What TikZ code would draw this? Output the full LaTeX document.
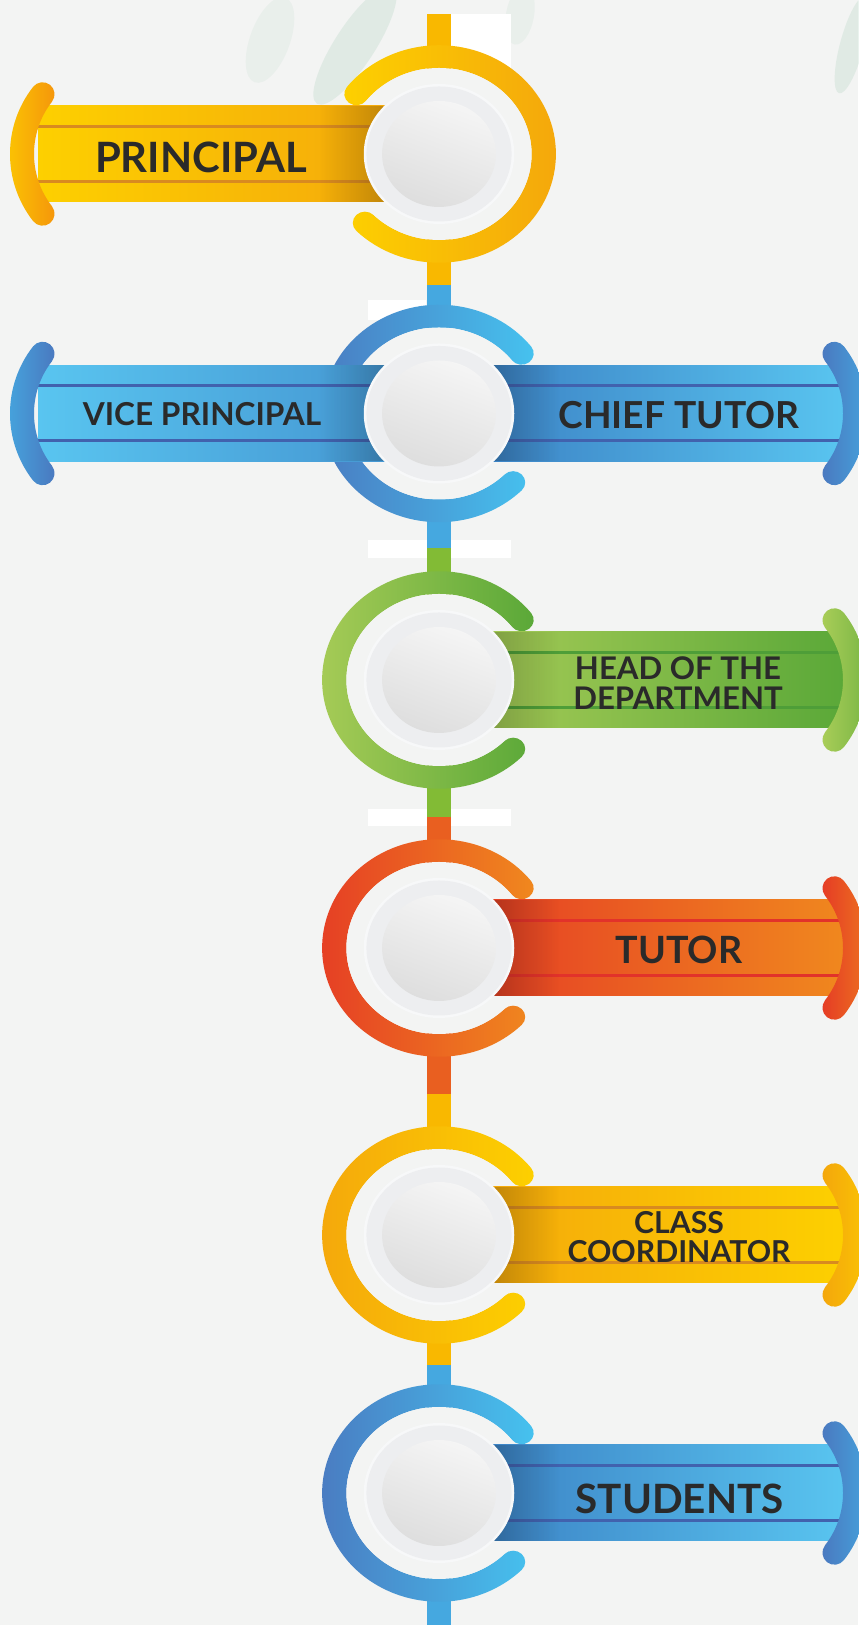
\documentclass[tikz,border=0pt]{standalone}
\usepackage{fontspec}
\setmainfont{Lato}
\usetikzlibrary{positioning,calc,fadings}

\definecolor{paper}{RGB}{243,244,243}
\definecolor{leaf}{RGB}{150,196,172}
\definecolor{ink}{RGB}{42,42,42}
\definecolor{halo}{RGB}{247,248,249}
\definecolor{diskgray}{RGB}{237,238,240}
\definecolor{yelA}{RGB}{253,208,0}
\definecolor{yelB}{RGB}{244,166,12}
\definecolor{yelStem}{RGB}{249,184,0}
\definecolor{yelLine}{RGB}{216,138,32}
\definecolor{bluA}{RGB}{74,120,191}
\definecolor{bluB}{RGB}{70,194,239}
\definecolor{bluC}{RGB}{58,126,194}
\definecolor{bluD}{RGB}{89,197,240}
\definecolor{bluStem}{RGB}{69,168,224}
\definecolor{bluLine}{RGB}{65,98,174}
\definecolor{grnA}{RGB}{170,205,88}
\definecolor{grnB}{RGB}{90,168,56}
\definecolor{grnStem}{RGB}{130,187,53}
\definecolor{grnLine}{RGB}{78,158,56}
\definecolor{redA}{RGB}{229,59,37}
\definecolor{redB}{RGB}{240,136,30}
\definecolor{redStem}{RGB}{233,95,32}
\definecolor{redLine}{RGB}{226,50,42}

% a thick arc with round ends, shaded left to right
% #1 centre, #2 radius, #3 half width, #4 start, #5 end, #6/#7 colours
\newcommand{\arcband}[7]{%
  \pgfmathsetmacro\bandout{#2+#3}%
  \pgfmathsetmacro\bandin{#2-#3}%
  \shade[left color=#6,right color=#7]
    ($#1+(#4:\bandout)$) arc[start angle=#4,end angle=#5,radius=\bandout]
    arc[start angle=#5,end angle=#5+180,radius=#3]
    arc[start angle=#5,end angle=#4,radius=\bandin]
    arc[start angle=#4+180,end angle=#4+360,radius=#3] -- cycle;}

% the open ring round a centre (a little wider than high)
% #1 centre, #2/#3 end angles, #4/#5 colours
\newcommand{\ring}[5]{%
  \begin{scope}[shift={(#1)},xscale=1.075]
    \arcband{(0,0)}{97.5}{11.25}{#2}{#3}{#4}{#5}
    \fill[paper] (0,0) circle[radius=86];
  \end{scope}}

% the grey button in the middle of a ring
\newcommand{\hub}[1]{%
  \begin{scope}[shift={(#1)},xscale=1.075]
    \fill[halo] (0,0) circle[radius=70];
    \fill[diskgray] (0,0) circle[radius=67.5];
    \shade[top color=black!4,bottom color=black!13,shading angle=-20] (0,0) circle[radius=53];
  \end{scope}}

\tikzset{
  stem/.style={line width=11.7pt},
  stripe/.style={line width=1.5pt},
  tag/.style={text=ink,align=center,inner sep=0pt},
  shadowR/.style={black,fill opacity=0.25,path fading=east},
  shadowL/.style={black,fill opacity=0.25,path fading=west},
}

\begin{document}
\begin{tikzpicture}[x=1pt,y=1pt,scale=0.5]
% canvas 858 x 1625, one unit = one pixel of the design
\useasboundingbox (0,0) rectangle (858,1625);
\fill[paper] (0,0) rectangle (858,1625);

% faint leaves at the top edge
\fill[leaf,opacity=0.2,rotate around={57:(355,1580)}] (355,1580) ellipse[x radius=70,y radius=20];
\fill[leaf,opacity=0.1,rotate around={70:(270,1585)}] (270,1585) ellipse[x radius=45,y radius=20];
\fill[leaf,opacity=0.1,rotate around={80:(520,1610)}] (520,1610) ellipse[x radius=30,y radius=14];
\fill[leaf,opacity=0.2,rotate around={75:(852,1580)}] (852,1580) ellipse[x radius=50,y radius=12];

% white patches behind the stem
\fill[white] (451,1611) rectangle (511,1555);
\fill[white] (368,1325) rectangle (426,1305);
\fill[white] (368,1085) rectangle (511,1067);
\fill[white] (368,816) rectangle (511,799);

% centres of the rings and joints of the stem
\coordinate (c1) at (439,1471);
\coordinate (c2) at (439,1211.5);
\coordinate (c3) at (439,945);
\coordinate (c4) at (439,677);
\coordinate (c5) at (439,390);
\coordinate (c6) at (439,132);
\coordinate (j0) at (439,1611);
\coordinate (j1) at (439,1340);
\coordinate (j2) at (439,1077);
\coordinate (j3) at (439,808);
\coordinate (j4) at (439,531);
\coordinate (j5) at (439,260);
\coordinate (j6) at (439,0);

% stem
\draw[stem,yelStem] (j0) -- (j1);
\draw[stem,bluStem] (j1) -- (j2);
\draw[stem,grnStem] (j2) -- (j3);
\draw[stem,redStem] (j3) -- (j4);
\draw[stem,yelStem] (j4) -- (j5);
\draw[stem,bluStem] (j5) -- (j6);

% ---- principal
\ring{c1}{-135}{142}{yelA}{yelB}
\shade[left color=yelA,right color=yelB] ($(c1)+(-401,-48)$) rectangle ($(c1)+(-20,48)$);
\draw[stripe,yelLine] ($(c1)+(-401,27.5)$) -- ($(c1)+(-20,27.5)$);
\draw[stripe,yelLine] ($(c1)+(-401,-27.5)$) -- ($(c1)+(-20,-27.5)$);
\fill[shadowL] ($(c1)+(-120,-48)$) rectangle ($(c1)+(-40,48)$);
\coordinate (k1) at ($(c1)+(-320,0)$);
\arcband{(k1)}{97}{12}{142}{218}{yelA!80!yelB}{yelB!90!red}
\hub{c1}
\node[tag,font=\bfseries\fontsize{20.9}{21}\selectfont] (principal) at (201,1468) {PRINCIPAL};

% ---- vice principal / chief tutor
\ring{c2}{38}{315}{bluA}{bluB}
\shade[left color=bluD,right color=bluC!70!bluD] ($(c2)+(-401,-48)$) rectangle ($(c2)+(-20,48)$);
\draw[stripe,bluLine] ($(c2)+(-401,27.5)$) -- ($(c2)+(-20,27.5)$);
\draw[stripe,bluLine] ($(c2)+(-401,-27.5)$) -- ($(c2)+(-20,-27.5)$);
\fill[shadowL] ($(c2)+(-120,-48)$) rectangle ($(c2)+(-40,48)$);
\shade[left color=bluC,right color=bluD] ($(c2)+(20,-48)$) rectangle ($(c2)+(407,48)$);
\draw[stripe,bluLine] ($(c2)+(20,27.5)$) -- ($(c2)+(407,27.5)$);
\draw[stripe,bluLine] ($(c2)+(20,-27.5)$) -- ($(c2)+(407,-27.5)$);
\fill[shadowR] ($(c2)+(40,-48)$) rectangle ($(c2)+(120,48)$);
\coordinate (k2) at ($(c2)+(-320,0)$);
\coordinate (q2) at ($(c2)+(319,0)$);
\arcband{(k2)}{97}{12}{142}{218}{bluStem}{bluA}
\arcband{(q2)}{97}{12}{-38}{38}{bluA}{bluStem}
\hub{c2}
\node[tag,font=\bfseries\fontsize{15.8}{16}\selectfont] (vice) at (202,1210.5) {VICE PRINCIPAL};
\node[tag,font=\bfseries\fontsize{18.6}{19}\selectfont] (chief) at (679,1210) {CHIEF TUTOR};

% ---- head of the department
\ring{c3}{38}{315}{grnA}{grnB}
\shade[left color=grnA,right color=grnB] ($(c3)+(20,-48)$) rectangle ($(c3)+(407,48)$);
\draw[stripe,grnLine] ($(c3)+(20,27.5)$) -- ($(c3)+(407,27.5)$);
\draw[stripe,grnLine] ($(c3)+(20,-27.5)$) -- ($(c3)+(407,-27.5)$);
\fill[shadowR] ($(c3)+(40,-48)$) rectangle ($(c3)+(120,48)$);
\coordinate (q3) at ($(c3)+(319,0)$);
\arcband{(q3)}{97}{12}{-38}{38}{grnA}{grnB!70!grnA}
\hub{c3}
\node[tag,font=\bfseries\fontsize{15.6}{15}\selectfont] (hod) at (678,942) {HEAD OF THE\\DEPARTMENT};

% ---- tutor
\ring{c4}{38}{315}{redA}{redB}
\shade[left color=redA,right color=redB] ($(c4)+(20,-48)$) rectangle ($(c4)+(407,48)$);
\draw[stripe,redLine] ($(c4)+(20,27.5)$) -- ($(c4)+(407,27.5)$);
\draw[stripe,redLine] ($(c4)+(20,-27.5)$) -- ($(c4)+(407,-27.5)$);
\fill[shadowR] ($(c4)+(40,-48)$) rectangle ($(c4)+(120,48)$);
\coordinate (q4) at ($(c4)+(319,0)$);
\arcband{(q4)}{97}{12}{-38}{38}{redA}{redB!80!redA}
\hub{c4}
\node[tag,font=\bfseries\fontsize{18.8}{19}\selectfont] (tutor) at (679,675.5) {TUTOR};

% ---- class coordinator
\ring{c5}{38}{315}{yelB}{yelA}
\shade[left color=yelB,right color=yelA] ($(c5)+(20,-48)$) rectangle ($(c5)+(407,48)$);
\draw[stripe,yelLine] ($(c5)+(20,27.5)$) -- ($(c5)+(407,27.5)$);
\draw[stripe,yelLine] ($(c5)+(20,-27.5)$) -- ($(c5)+(407,-27.5)$);
\fill[shadowR] ($(c5)+(40,-48)$) rectangle ($(c5)+(120,48)$);
\coordinate (q5) at ($(c5)+(319,0)$);
\arcband{(q5)}{97}{12}{-38}{38}{yelB}{yelA!80!yelB}
\hub{c5}
\node[tag,font=\bfseries\fontsize{15.1}{14.5}\selectfont] (coord) at (679,387.5) {CLASS\\COORDINATOR};

% ---- students
\ring{c6}{38}{315}{bluA}{bluB}
\shade[left color=bluC,right color=bluD] ($(c6)+(20,-48)$) rectangle ($(c6)+(407,48)$);
\draw[stripe,bluLine] ($(c6)+(20,27.5)$) -- ($(c6)+(407,27.5)$);
\draw[stripe,bluLine] ($(c6)+(20,-27.5)$) -- ($(c6)+(407,-27.5)$);
\fill[shadowR] ($(c6)+(40,-48)$) rectangle ($(c6)+(120,48)$);
\coordinate (q6) at ($(c6)+(319,0)$);
\arcband{(q6)}{97}{12}{-38}{38}{bluA}{bluStem}
\hub{c6}
\node[tag,font=\bfseries\fontsize{20.2}{20}\selectfont] (students) at (679.5,126.5) {STUDENTS};
\end{tikzpicture}
\end{document}
